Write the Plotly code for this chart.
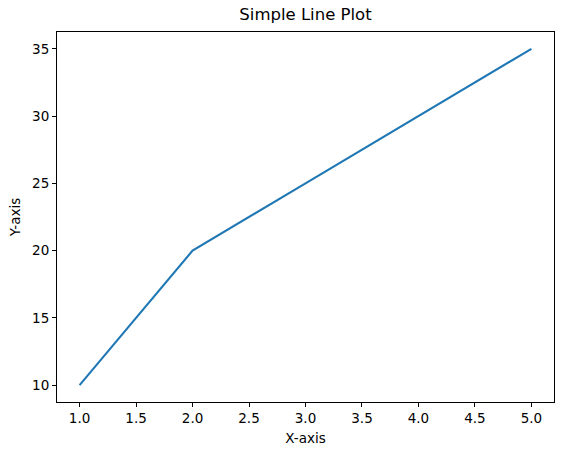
import plotly.graph_objects as go

x_values = [1, 2, 3, 4, 5]
y_values = [10, 20, 25, 30, 35]
x_ticks = [1.0, 1.5, 2.0, 2.5, 3.0, 3.5, 4.0, 4.5, 5.0]
y_ticks = [10, 15, 20, 25, 30, 35]

font = "DejaVu Sans"
fig = go.Figure(go.Scatter(x=x_values, y=y_values, mode="lines",
                           line=dict(color="#1f77b4", width=2.1)))

axis_common = dict(showline=True, mirror=True, linecolor="black", linewidth=1.1,
                   ticks="outside", ticklen=4, tickwidth=1, tickcolor="black",
                   showgrid=False, zeroline=False, automargin=False,
                   tickfont=dict(family=font, size=13.5, color="black"))

fig.update_xaxes(range=[0.8, 5.2], tickvals=x_ticks,
                 ticktext=[f"{v:.1f}" for v in x_ticks],
                 title=dict(text="X-axis", font=dict(family=font, size=13.5, color="black"), standoff=8),
                 **axis_common)
fig.update_yaxes(range=[8.75, 36.25], tickvals=y_ticks,
                 ticktext=[str(v) for v in y_ticks],
                 title=dict(text="Y-axis", font=dict(family=font, size=13.5, color="black"), standoff=8),
                 **axis_common)

fig.update_layout(
    width=562, height=455,
    margin=dict(l=57, r=8, t=32, b=53, autoexpand=False),
    paper_bgcolor="white", plot_bgcolor="white",
    showlegend=False,
    title=dict(text="Simple Line Plot", x=(57 + 554) / 2 / 562, xanchor="center",
               y=1 - 14 / 455, yanchor="middle",
               font=dict(family=font, size=16.5, color="black")),
)

fig.write_html("out.html", config={"displayModeBar": False},
               post_script="document.body.style.margin='0';document.body.style.overflow='hidden';")
